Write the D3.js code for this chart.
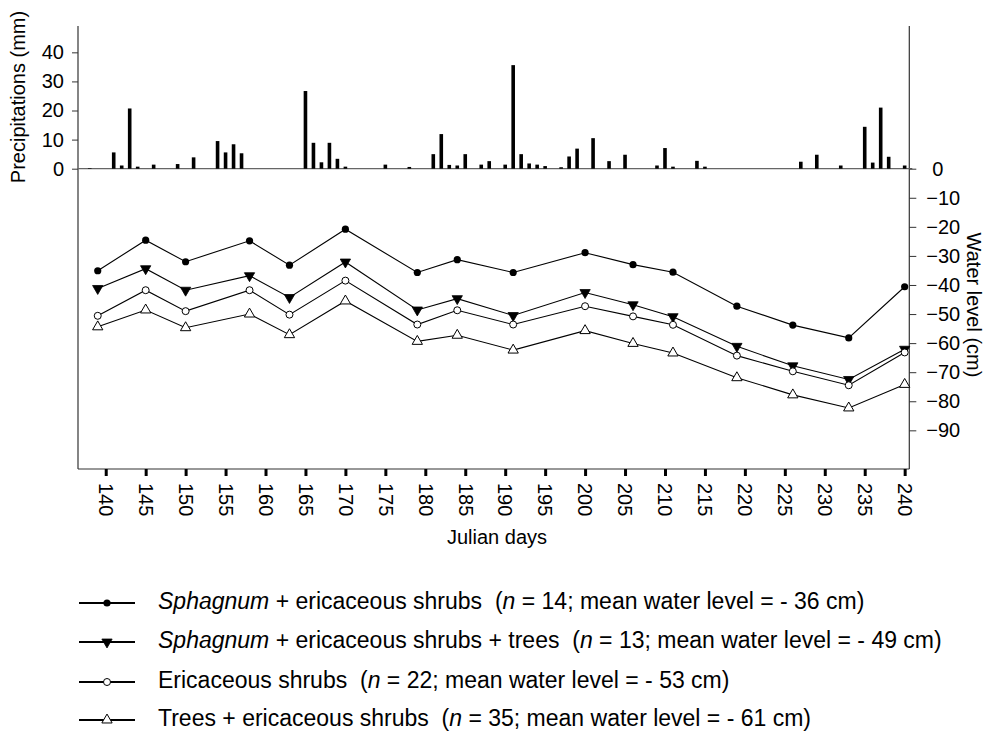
<!DOCTYPE html>
<html>
<head>
<meta charset="utf-8">
<script src="https://cdn.jsdelivr.net/npm/d3@7/dist/d3.min.js"></script>
<style>
  html, body { margin: 0; padding: 0; background: #fff; }
  svg text { font-family: "Liberation Sans", Arial, Helvetica, sans-serif; fill: #000; }
</style>
</head>
<body>
<svg id="chart" width="986" height="735"></svg>
<script>
// ---------- DATA ----------
const precipDays = [138,141,142,143,144,146,149,151,154,155,156,157,165,166,167,168,169,170,175,178,181,182,183,184,185,187,188,190,191,192,193,194,195,197,198,199,201,203,205,209,210,211,214,215,227,229,232,235,236,237,238,240];
const precipMm   = [0.2,5.6,1.1,20.7,0.7,1.4,1.6,3.9,9.5,5.6,8.4,5.3,26.7,8.9,2.2,8.9,3.4,0.7,1.4,0.6,5.0,11.9,1.3,1.1,5.0,1.4,2.6,1.4,35.6,5.0,1.8,1.4,0.9,0.5,4.2,6.9,10.5,2.6,4.8,1.1,7.1,0.7,2.7,0.7,2.4,4.8,1.1,14.4,2.1,21.0,4.1,1.1];

const waterDays = [139,145,150,158,163,170,179,184,191,200,206,211,219,226,233,240];
const sphagnumShrubs      = [-35.1,-24.6,-32.0,-24.8,-33.2,-20.8,-35.7,-31.3,-35.7,-28.9,-33.0,-35.6,-47.3,-53.8,-58.2,-40.6];
const sphagnumShrubsTrees = [-41.2,-34.4,-41.8,-36.8,-44.3,-32.1,-48.6,-44.7,-50.5,-42.6,-46.8,-50.9,-61.1,-67.8,-72.5,-62.1];
const ericaceousShrubs    = [-50.6,-41.8,-49.0,-41.8,-50.2,-38.5,-53.6,-48.7,-53.6,-47.3,-50.8,-53.7,-64.3,-69.7,-74.5,-63.2];
const treesShrubs         = [-54.4,-48.6,-54.7,-50.0,-57.1,-45.5,-59.4,-57.3,-62.4,-55.7,-60.1,-63.4,-71.9,-77.8,-82.3,-74.2];

const xTickValues = d3.range(140, 241, 5);
const precipTicks = [0, 10, 20, 30, 40];
const waterTicks = [0, -10, -20, -30, -40, -50, -60, -70, -80, -90];

const seriesNames = [
  {italic: "Sphagnum", rest: " + ericaceous shrubs  (", n: "14", mean: "- 36"},
  {italic: "Sphagnum", rest: " + ericaceous shrubs + trees  (", n: "13", mean: "- 49"},
  {italic: "", rest: "Ericaceous shrubs  (", n: "22", mean: "- 53"},
  {italic: "", rest: "Trees + ericaceous shrubs  (", n: "35", mean: "- 61"}
];
const seriesValues = [sphagnumShrubs, sphagnumShrubsTrees, ericaceousShrubs, treesShrubs];
const seriesMarkers = ["dot", "triDown", "circleOpen", "triUp"];

// ---------- LAYOUT ----------
const svg = d3.select("#chart");
const L = 78, R = 909.3, T = 26, B = 469;

const x = d3.scaleLinear().domain([136.53, 240.58]).range([L, R]);
const yP = d3.scaleLinear().domain([0, 49.05]).range([168.7, T]);
const yW = d3.scaleLinear().domain([0, -103.3]).range([168.7, B]);

// ---------- AXES ----------
svg.append("line").attr("x1", L).attr("x2", L).attr("y1", T).attr("y2", B).attr("stroke", "#333").attr("stroke-width", 1.2);
svg.append("line").attr("x1", R).attr("x2", R).attr("y1", T).attr("y2", B).attr("stroke", "#333").attr("stroke-width", 1.2);
svg.append("line").attr("x1", L).attr("x2", R).attr("y1", B).attr("y2", B).attr("stroke", "#333").attr("stroke-width", 1.2);

// precipitation baseline
svg.append("line").attr("x1", L).attr("x2", R + 3).attr("y1", yP(0)).attr("y2", yP(0)).attr("stroke", "#666").attr("stroke-width", 1.3);

// bottom axis
const gx = svg.append("g").attr("transform", `translate(0,${B})`)
  .call(d3.axisBottom(x).tickValues(xTickValues).tickSize(7).tickSizeOuter(0).tickFormat(d3.format("d")));
gx.select(".domain").remove();
gx.selectAll(".tick line").attr("stroke", "#000").attr("stroke-width", 3);
gx.selectAll(".tick text")
  .attr("font-size", 20)
  .attr("transform", "rotate(90)")
  .attr("x", 14).attr("y", 0).attr("dy", "0.36em")
  .attr("text-anchor", "start");

// left axis (precipitation)
const gl = svg.append("g").attr("transform", `translate(${L},0)`)
  .call(d3.axisLeft(yP).tickValues(precipTicks).tickSize(6).tickPadding(8).tickSizeOuter(0));
gl.select(".domain").remove();
gl.selectAll(".tick line").attr("stroke", "#333");
gl.selectAll(".tick text").attr("font-size", 20);

// right axis (water level)
const gr = svg.append("g").attr("transform", `translate(${R},0)`)
  .call(d3.axisRight(yW).tickValues(waterTicks).tickSize(7).tickPadding(10).tickSizeOuter(0));
gr.select(".domain").remove();
gr.selectAll(".tick line").attr("stroke", "#333");
gr.selectAll(".tick text").attr("font-size", 20)
  .attr("dx", d => d === 0 ? 6 : 0);

// axis titles
svg.append("text").attr("font-size", 20).attr("text-anchor", "middle")
  .attr("transform", "translate(25,97) rotate(-90)").text("Precipitations (mm)");
svg.append("text").attr("font-size", 20).attr("text-anchor", "middle")
  .attr("transform", "translate(967,305) rotate(90)").text("Water level (cm)");
svg.append("text").attr("font-size", 20).attr("text-anchor", "middle")
  .attr("x", 497).attr("y", 544).text("Julian days");

// ---------- PRECIPITATION BARS ----------
const barW = 3.6;
svg.append("g").selectAll("rect")
  .data(precipDays.map((d, i) => ({day: d, mm: precipMm[i]})))
  .join("rect")
  .attr("x", d => x(d.day) - barW / 2)
  .attr("y", d => yP(d.mm))
  .attr("width", barW)
  .attr("height", d => yP(0) - yP(d.mm))
  .attr("fill", "#000");

// ---------- WATER LEVEL LINES ----------
const triSize = 46;
function drawMarker(sel, type) {
  if (type === "dot") {
    sel.append("circle").attr("r", 3.6).attr("fill", "#000");
  } else if (type === "circleOpen") {
    sel.append("circle").attr("r", 3.5).attr("fill", "#fff").attr("stroke", "#000").attr("stroke-width", 1);
  } else if (type === "triDown") {
    sel.append("path").attr("d", d3.symbol(d3.symbolTriangle, triSize)()).attr("transform", "rotate(180)")
      .attr("fill", "#000").attr("stroke", "#000").attr("stroke-width", 0.8);
  } else if (type === "triUp") {
    sel.append("path").attr("d", d3.symbol(d3.symbolTriangle, triSize)())
      .attr("fill", "#fff").attr("stroke", "#000").attr("stroke-width", 1);
  }
}

const line = d3.line().x(d => x(d.day)).y(d => yW(d.w));
seriesValues.forEach((vals) => {
  const pts = waterDays.map((d, i) => ({day: d, w: vals[i]}));
  svg.append("path").datum(pts).attr("d", line)
    .attr("fill", "none").attr("stroke", "#000").attr("stroke-width", 1.1);
});
seriesValues.forEach((vals, si) => {
  const pts = waterDays.map((d, i) => ({day: d, w: vals[i]}));
  const g = svg.append("g");
  pts.forEach(p => {
    const m = g.append("g").attr("transform", `translate(${x(p.day)},${yW(p.w)})`);
    drawMarker(m, seriesMarkers[si]);
  });
});

// ---------- LEGEND ----------
const legY = [603, 642, 682, 720];
const leg = svg.append("g");
seriesNames.forEach((s, i) => {
  const y = legY[i];
  leg.append("line").attr("x1", 79).attr("x2", 135).attr("y1", y).attr("y2", y)
    .attr("stroke", "#000").attr("stroke-width", 2);
  const m = leg.append("g").attr("transform", `translate(107,${y})`);
  drawMarker(m, seriesMarkers[i]);
  const t = leg.append("text").attr("x", 158).attr("y", y + 6).attr("font-size", 23)
    .attr("xml:space", "preserve").style("white-space", "pre");
  if (s.italic) t.append("tspan").attr("font-style", "italic").text(s.italic);
  t.append("tspan").text(s.rest);
  t.append("tspan").attr("font-style", "italic").text("n");
  t.append("tspan").text(" = " + s.n + "; mean water level = " + s.mean + " cm)");
});
</script>
</body>
</html>
